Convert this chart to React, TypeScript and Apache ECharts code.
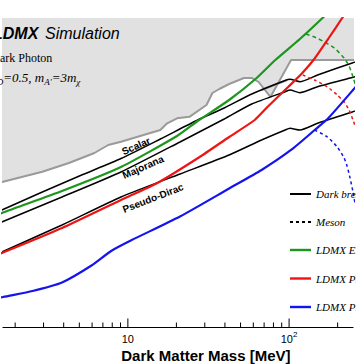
import React, { useEffect, useRef } from "react";
import * as echarts from "echarts";

// ---- axes (x: dark matter mass in MeV, log; y: log10 of the unlabelled quantity) ----
const X_MIN = 1.681;
const X_MAX = 249.1;
const Y_MIN = -16;
const Y_MAX = -8;

const majorTicks = [10, 100];
const minorTicks = [2, 3, 4, 5, 6, 7, 8, 9, 20, 30, 40, 50, 60, 70, 80, 90, 200];

// ---- excluded region boundary (gray) ----
const boundaryMass = [1.461, 1.681, 2.949, 4.307, 6.204, 7.551, 9.065, 11.51, 15.9, 17.53, 20.18, 24.22, 30.74, 33.45, 36.93, 42.47, 52.44, 58.67, 64.71, 76.57, 102.8, 286.7];
const boundaryLogY = [-12.298, -12.238, -11.979, -11.754, -11.495, -11.288, -11.203, -11.074, -10.9, -10.726, -10.597, -10.555, -10.252, -9.942, -9.838, -9.709, -9.553, -9.553, -9.657, -10.045, -9.087, -9.087];
const stubMass = [67.5, 97.2];
const stubLogY = [-9.864, -9.605];

// ---- thermal targets (black) ----
const scalarMass = [1.461, 1.681, 2.948, 5.17, 9.065, 15.9, 27.1, 39.59, 58.67, 94.54, 101.4, 116.7, 150.2, 249.1, 286.7];
const scalarLogY = [-13.074, -12.958, -12.505, -12.065, -11.638, -11.133, -10.641, -10.33, -9.968, -9.618, -9.587, -9.649, -9.476, -9.157, -9.087];
const majoranaMass = [1.461, 1.681, 3.904, 9.065, 21.05, 39.59, 58.67, 94.54, 101.4, 116.7, 150.2, 249.1, 286.7];
const majoranaLogY = [-13.385, -13.269, -12.634, -11.987, -11.21, -10.615, -10.227, -9.908, -9.864, -9.934, -9.779, -9.535, -9.463];
const pseudoMass = [1.461, 1.681, 3.904, 9.065, 21.05, 42.47, 67.5, 94.54, 101.4, 116.7, 150.2, 249.1, 286.7];
const pseudoLogY = [-14.162, -14.045, -13.359, -12.634, -12.039, -11.547, -11.159, -10.9, -10.856, -10.9, -10.726, -10.426, -10.33];

// ---- LDMX reach, dark bremsstrahlung (solid) ----
const greenMass = [1.461, 1.681, 3.904, 9.065, 20.18, 27.1, 42.47, 62.93, 82.14, 116.7, 161.2, 185.4];
const greenLogY = [-13.152, -13.036, -12.479, -11.858, -11.055, -10.667, -10.123, -9.553, -9.087, -8.544, -8.0, -7.741];
const redMass = [1.461, 1.681, 3.904, 9.065, 15.24, 27.87, 42.47, 61.19, 74.46, 98.61, 120, 144.1, 175.4, 213.4, 256.2];
const redLogY = [-14.162, -14.071, -13.437, -12.712, -12.272, -11.599, -11.081, -10.641, -10.278, -9.786, -9.437, -9.049, -8.531, -8.0, -7.482];
const blueMass = [1.461, 1.681, 2.562, 3.904, 5.949, 7.876, 10.43, 21.05, 42.47, 67.5, 102.8, 144.1, 175.4, 249.1, 286.7];
const blueLogY = [-15.288, -15.223, -15.068, -14.848, -14.408, -14.032, -13.761, -13.139, -12.414, -11.935, -11.417, -10.9, -10.589, -9.864, -9.553];

// ---- LDMX reach, meson production (dashed) ----
const greenMesonMass = [127.0, 146.1, 165.8, 190.8, 219.5, 235.5, 249.1, 263.5];
const greenMesonLogY = [-8.414, -8.505, -8.621, -8.777, -9.036, -9.243, -9.528, -9.864];
const redMesonMass = [121.7, 146.1, 172.9, 199.0, 219.5, 235.5, 249.1, 263.5];
const redMesonLogY = [-9.476, -9.618, -9.786, -9.994, -10.175, -10.382, -10.641, -10.926];
const blueMesonMass = [144.1, 172.9, 199.0, 219.5, 228.9, 238.8, 249.1, 256.2];
const blueMesonLogY = [-10.9, -11.081, -11.34, -11.625, -11.832, -12.142, -12.505, -12.79];

const legendLabels = ["Dark bremsstrahlung", "Meson", "LDMX Electron", "LDMX Phase I", "LDMX Phase II"];

const SANS = "Liberation Sans, Arial, Helvetica, sans-serif";
const SERIF = "Liberation Serif, 'Times New Roman', serif";
const GREEN = "#1c961c";
const RED = "#ee1414";
const BLUE = "#1414ee";

const zip = (xs: number[], ys: number[]) => xs.map((x, i) => [x, ys[i]]);

function lineSeries(name: string, xs: number[], ys: number[], color: string, width: number, dash?: number[]) {
  return {
    type: "line",
    name,
    data: zip(xs, ys),
    symbol: "none",
    smooth: 0.2,
    clip: true,
    lineStyle: { color, width, type: dash ? dash : "solid" },
    z: 3,
  };
}

function tickSeries(values: number[], len: number) {
  return {
    type: "custom",
    data: values.map((v) => [v, Y_MIN]),
    clip: false,
    z: 5,
    renderItem: (_p: any, api: any) => {
      const pt = api.coord([api.value(0), Y_MIN]);
      return {
        type: "line",
        shape: { x1: pt[0], y1: pt[1], x2: pt[0], y2: pt[1] - len },
        style: { stroke: "#000", lineWidth: 1 },
      };
    },
  };
}

function txt(x: number, y: number, style: any, extra: any = {}) {
  return { type: "text", x, y, z: 50, zlevel: 0, style: { fill: "#000", verticalAlign: "middle", align: "left", ...style }, ...extra };
}

function buildOption() {
  const legendY = [194, 222, 250, 278.5, 307];
  const legendColors = ["#000", "#000", GREEN, RED, BLUE];
  const legendGraphics: any[] = [];
  legendLabels.forEach((label, i) => {
    legendGraphics.push({
      type: "line",
      z: 50,
      shape: { x1: 290, y1: legendY[i], x2: 311, y2: legendY[i] },
      style: {
        stroke: legendColors[i],
        lineWidth: i < 2 ? 2 : 2.4,
        lineDash: i === 1 ? [3, 3] : null,
      },
    });
    legendGraphics.push(
      txt(316, legendY[i], { text: label, fontFamily: SERIF, fontStyle: "italic", fontSize: 11 })
    );
  });

  return {
    animation: false,
    backgroundColor: "#fff",
    grid: { left: 0, right: 0, top: 18, bottom: 37, show: false },
    xAxis: [
      {
        type: "log",
        logBase: 10,
        min: X_MIN,
        max: X_MAX,
        position: "bottom",
        axisLine: { show: true, lineStyle: { color: "#000", width: 1.2 } },
        axisTick: { show: false },
        splitLine: { show: false },
        minorTick: { show: false },
        axisLabel: {
          color: "#000",
          fontFamily: SANS,
          fontSize: 11,
          margin: 3,
          formatter: (v: number) => {
            const e = Math.round(Math.log10(v) * 1e6) / 1e6;
            if (e === 1) return "{n|10}";
            if (e === 2) return "{n|10}{sup|2}";
            return "";
          },
          rich: {
            n: { fontSize: 11, fontFamily: SANS, color: "#000", lineHeight: 18 },
            sup: { fontSize: 8, fontFamily: SANS, color: "#000", padding: [0, 0, 9, 0] },
          },
        },
      },
      {
        type: "log",
        logBase: 10,
        min: X_MIN,
        max: X_MAX,
        position: "top",
        axisLine: { show: true, lineStyle: { color: "#555", width: 1 } },
        axisTick: { show: false },
        axisLabel: { show: false },
        splitLine: { show: false },
      },
    ],
    yAxis: {
      type: "value",
      min: Y_MIN,
      max: Y_MAX,
      show: false,
      splitLine: { show: false },
    },
    series: [
      {
        type: "line",
        name: "Excluded",
        data: zip(boundaryMass, boundaryLogY),
        symbol: "none",
        lineStyle: { color: "#9a9a9a", width: 2 },
        areaStyle: { color: "#e1e1e1", origin: "end", opacity: 1 },
        z: 1,
      },
      {
        type: "line",
        name: "Excluded stub",
        data: zip(stubMass, stubLogY),
        symbol: "none",
        lineStyle: { color: "#9a9a9a", width: 2 },
        z: 2,
      },
      lineSeries("Scalar", scalarMass, scalarLogY, "#000", 1.5),
      lineSeries("Majorana", majoranaMass, majoranaLogY, "#000", 1.5),
      lineSeries("Pseudo-Dirac", pseudoMass, pseudoLogY, "#000", 1.5),
      lineSeries("LDMX E meson", greenMesonMass, greenMesonLogY, GREEN, 1.5, [4, 3]),
      lineSeries("LDMX P1 meson", redMesonMass, redMesonLogY, RED, 1.5, [3, 3]),
      lineSeries("LDMX P2 meson", blueMesonMass, blueMesonLogY, BLUE, 1.5, [3, 3]),
      lineSeries("LDMX E", greenMass, greenLogY, GREEN, 2.2),
      lineSeries("LDMX P1", redMass, redLogY, RED, 2.2),
      lineSeries("LDMX P2", blueMass, blueLogY, BLUE, 2.2),
      tickSeries(minorTicks, 4.5),
      tickSeries(majorTicks, 8.5),
    ],
    graphic: [
      txt(-7, 33.5, { text: "LDMX", fontFamily: SANS, fontStyle: "italic", fontWeight: "bold", fontSize: 16 }),
      txt(45, 33.5, { text: "Simulation", fontFamily: SANS, fontStyle: "italic", fontSize: 16 }),
      txt(-8.7, 57.5, { text: "Dark Photon", fontFamily: SERIF, fontSize: 12 }),
      txt(-10, 77.5, {
        text: "{n|α}{s|D}{n|=0.5, m}{s|A'}{n|=3m}{s|χ}",
        rich: {
          n: { fontFamily: SERIF, fontStyle: "italic", fontSize: 13, fill: "#000", color: "#000" },
          s: { fontFamily: SERIF, fontStyle: "italic", fontSize: 9, fill: "#000", color: "#000", padding: [8, 0, 0, 0] },
        },
      }),
      txt(136, 146, { text: "Scalar", fontFamily: SANS, fontWeight: "bold", fontSize: 10, align: "center" }, { rotation: 0.42 }),
      txt(143, 167, { text: "Majorana", fontFamily: SANS, fontWeight: "bold", fontSize: 10, align: "center" }, { rotation: 0.41 }),
      txt(153, 198, { text: "Pseudo-Dirac", fontFamily: SANS, fontWeight: "bold", fontSize: 10, align: "center" }, { rotation: 0.37 }),
      txt(290.5, 355, { text: "Dark Matter Mass [MeV]", fontFamily: SANS, fontWeight: "bold", fontSize: 15, align: "right" }),
      ...legendGraphics,
    ],
  };
}

export default function App() {
  const ref = useRef<HTMLDivElement>(null);
  useEffect(() => {
    if (!ref.current) return;
    const chart = echarts.init(ref.current, null, { renderer: "svg" });
    chart.setOption(buildOption() as any);
    return () => chart.dispose();
  }, []);
  return (
    <div
      ref={ref}
      style={{ position: "fixed", left: 0, top: 0, width: 356, height: 364, background: "#fff" }}
    />
  );
}
